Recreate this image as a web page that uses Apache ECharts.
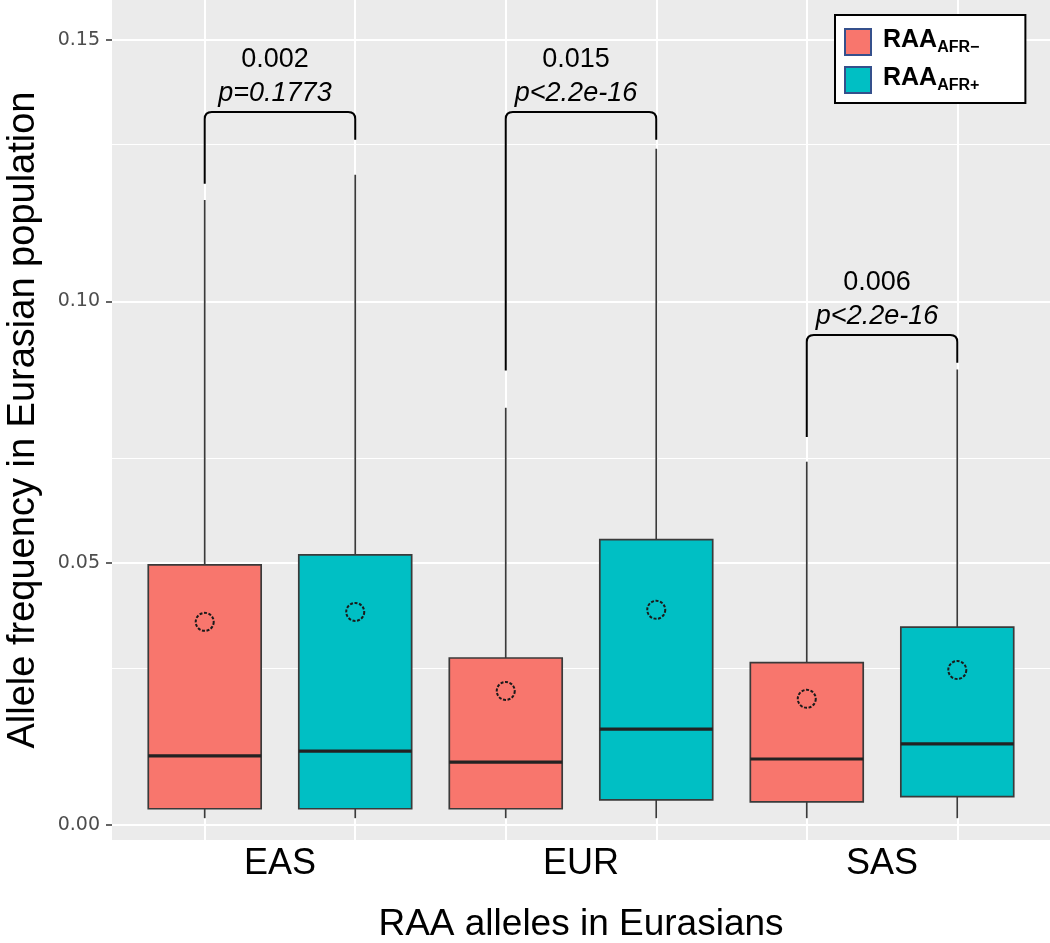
<!DOCTYPE html>
<html><head><meta charset="utf-8">
<script src="https://cdn.jsdelivr.net/npm/echarts@6/dist/echarts.min.js"></script>
<style>html,body{margin:0;padding:0;background:#fff}#c{width:1050px;height:943px}</style>
</head><body><div id="c"></div>
<script>
const categories = ['EAS', 'EUR', 'SAS'];
const groups = ['AFR\u2212', 'AFR+'];
const groupColors = ['#F8766D', '#00BFC4'];

// RAA AFR- boxes
const minusLower  = [0.0013, 0.0013, 0.0013];
const minusQ1     = [0.0031, 0.0031, 0.0044];
const minusMedian = [0.0132, 0.0120, 0.0126];
const minusQ3     = [0.0497, 0.0319, 0.0310];
const minusUpper  = [0.1194, 0.0797, 0.0694];
const minusMean   = [0.0388, 0.0256, 0.0241];
// RAA AFR+ boxes
const plusLower  = [0.0013, 0.0013, 0.0013];
const plusQ1     = [0.0031, 0.0048, 0.0054];
const plusMedian = [0.0141, 0.0183, 0.0155];
const plusQ3     = [0.0516, 0.0545, 0.0378];
const plusUpper  = [0.1242, 0.1292, 0.0870];
const plusMean   = [0.0407, 0.0411, 0.0296];

// significance brackets
const diffLabels = ['0.002', '0.015', '0.006'];
const pLabels = ['p=0.1773', 'p<2.2e-16', 'p<2.2e-16'];
const bracketTop = [0.1362, 0.1362, 0.0936];
const bracketLeftEnd = [0.1225, 0.0868, 0.0741];
const bracketRightEnd = [0.1309, 0.1309, 0.0883];

// axes
const yTicks = [0, 0.05, 0.10, 0.15];
const yTickLabels = ['0.00', '0.05', '0.10', '0.15'];
const yMinor = [0.025, 0.075, 0.125];

const DODGE = 0.25, BOX_W = 0.375;
const FONT = 'Liberation Sans, Arial, Helvetica, sans-serif';
const LINE_C = '#3a3a3a';

function boxData(lo, q1, md, q3, hi, mn, sign) {
  return categories.map((c, i) => [i + 1 + sign * DODGE, lo[i], q1[i], md[i], q3[i], hi[i], mn[i]]);
}
function boxRender(color) {
  return function (params, api) {
    const x = api.value(0);
    const lo = api.coord([x, api.value(1)]);
    const q1 = api.coord([x, api.value(2)]);
    const md = api.coord([x, api.value(3)]);
    const q3 = api.coord([x, api.value(4)]);
    const hi = api.coord([x, api.value(5)]);
    const mn = api.coord([x, api.value(6)]);
    const w = api.size([BOX_W, 0])[0];
    const cx = lo[0];
    return {
      type: 'group', children: [
        { type: 'line', shape: { x1: cx, y1: q3[1], x2: cx, y2: hi[1] }, style: { stroke: LINE_C, lineWidth: 1.7 } },
        { type: 'line', shape: { x1: cx, y1: q1[1], x2: cx, y2: lo[1] }, style: { stroke: LINE_C, lineWidth: 1.7 } },
        { type: 'rect', shape: { x: cx - w / 2, y: q3[1], width: w, height: q1[1] - q3[1] }, style: { fill: color, stroke: LINE_C, lineWidth: 1.7 } },
        { type: 'line', shape: { x1: cx - w / 2, y1: md[1], x2: cx + w / 2, y2: md[1] }, style: { stroke: '#222', lineWidth: 3.2 } },
        { type: 'circle', shape: { cx: cx, cy: mn[1], r: 9 }, style: { fill: 'none', stroke: '#1a1a1a', lineWidth: 2, lineDash: [3, 1.6] } }
      ]
    };
  };
}

const bracketData = categories.map((c, i) => [i + 1, bracketTop[i], bracketLeftEnd[i], bracketRightEnd[i], i]);
function bracketRender(params, api) {
  const x = api.value(0);
  const idx = api.value(4);
  const l = api.coord([x - DODGE, api.value(1)]);
  const r = api.coord([x + DODGE, api.value(1)]);
  const le = api.coord([x - DODGE, api.value(2)]);
  const re = api.coord([x + DODGE, api.value(3)]);
  const rad = 7;
  const path = 'M' + l[0] + ' ' + le[1] + ' L' + l[0] + ' ' + (l[1] + rad) +
    ' Q' + l[0] + ' ' + l[1] + ' ' + (l[0] + rad) + ' ' + l[1] +
    ' L' + (r[0] - rad) + ' ' + r[1] +
    ' Q' + r[0] + ' ' + r[1] + ' ' + r[0] + ' ' + (r[1] + rad) +
    ' L' + r[0] + ' ' + re[1];
  const mx = (l[0] + r[0]) / 2;
  return {
    type: 'group', children: [
      { type: 'path', shape: { pathData: path }, style: { fill: 'none', stroke: '#000', lineWidth: 2 } },
      { type: 'text', style: { text: diffLabels[idx], x: mx - 5, y: l[1] - 52, align: 'center', verticalAlign: 'middle', fontSize: 27, fontFamily: FONT, fill: '#000' } },
      { type: 'text', style: { text: pLabels[idx], x: mx - 5, y: l[1] - 19, align: 'center', verticalAlign: 'middle', fontSize: 27, fontStyle: 'italic', fontFamily: FONT, fill: '#000' } }
    ]
  };
}

const boxCenters = [];
categories.forEach((c, i) => { boxCenters.push(i + 1 - DODGE, i + 1 + DODGE); });

const chart = echarts.init(document.getElementById('c'), null, { renderer: 'canvas' });
chart.setOption({
  animation: false,
  backgroundColor: '#fff',
  textStyle: { fontFamily: FONT },
  grid: { left: 112, right: 0, top: 0, bottom: 103, show: true, backgroundColor: '#EBEBEB', borderWidth: 0, containLabel: false, outerBoundsMode: 'none' },
  xAxis: {
    type: 'value', min: 0.442, max: 3.558,
    axisLine: { show: false }, axisTick: { show: false }, splitLine: { show: false },
    axisLabel: { customValues: [1, 2, 3], formatter: v => categories[Math.round(v) - 1], fontSize: 36, color: '#000', margin: 6 },
    name: 'RAA alleles in Eurasians', nameLocation: 'middle', nameGap: 66,
    nameTextStyle: { fontSize: 37, color: '#000' }
  },
  yAxis: {
    type: 'value', min: -0.00287, max: 0.1576,
    axisLine: { show: false }, splitLine: { show: false },
    axisTick: { show: true, customValues: yTicks, length: 6, lineStyle: { color: '#333', width: 1.5 } },
    axisLabel: { customValues: yTicks, formatter: v => yTickLabels[yTicks.indexOf(v)] || v.toFixed(2), fontSize: 19, fontFamily: 'DejaVu Sans, Verdana, sans-serif', color: '#4D4D4D', margin: 12 },
    name: 'Allele frequency in Eurasian population', nameLocation: 'middle', nameGap: 69, nameRotate: 90,
    nameTextStyle: { fontSize: 38, color: '#000' }
  },
  legend: {
    orient: 'vertical', left: 835, top: 15,
    backgroundColor: '#fff', borderColor: '#000', borderWidth: 2,
    padding: [10, 46, 9, 9],
    itemWidth: 26, itemHeight: 26, itemGap: 7, icon: 'rect',
    selectedMode: false,
    itemStyle: { borderColor: '#35508c', borderWidth: 2 },
    data: groups,
    formatter: n => '{b|RAA}{s|' + n + '}',
    textStyle: {
      rich: {
        b: { fontSize: 25, fontWeight: 'bold', color: '#000', fontFamily: FONT, lineHeight: 28, verticalAlign: 'top', padding: [0, 0, 0, 7] },
        s: { fontSize: 16, fontWeight: 'bold', color: '#000', fontFamily: FONT, lineHeight: 16, padding: [15, 0, 0, 0], verticalAlign: 'bottom' }
      }
    }
  },
  series: [
    {
      type: 'line', data: [], silent: true, z: 1,
      markLine: {
        silent: true, symbol: 'none', z: 1, animation: false,
        label: { show: false },
        lineStyle: { color: '#fff', type: 'solid', width: 2 },
        data: [
          ...yTicks.map(v => ({ yAxis: v, lineStyle: { color: '#fff', width: 2, type: 'solid' } })),
          ...yMinor.map(v => ({ yAxis: v, lineStyle: { color: '#fff', width: 1, type: 'solid' } })),
          ...boxCenters.map(v => ({ xAxis: v, lineStyle: { color: '#fff', width: 2, type: 'solid' } }))
        ]
      }
    },
    { name: groups[0], type: 'custom', z: 3, itemStyle: { color: groupColors[0] }, renderItem: boxRender(groupColors[0]), data: boxData(minusLower, minusQ1, minusMedian, minusQ3, minusUpper, minusMean, -1) },
    { name: groups[1], type: 'custom', z: 3, itemStyle: { color: groupColors[1] }, renderItem: boxRender(groupColors[1]), data: boxData(plusLower, plusQ1, plusMedian, plusQ3, plusUpper, plusMean, 1) },
    { type: 'custom', z: 4, renderItem: bracketRender, data: bracketData }
  ]
});
</script></body></html>
